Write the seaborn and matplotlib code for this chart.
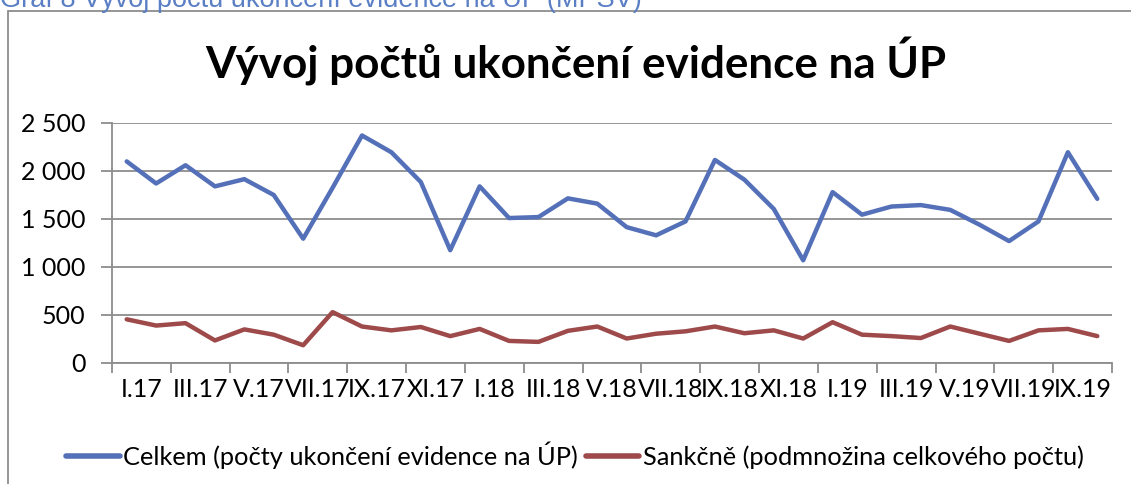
import pandas as pd
import matplotlib.pyplot as plt
import matplotlib.patches as mpatches
from matplotlib.ticker import FuncFormatter, FixedLocator
import seaborn as sns

# Values (monthly, I.2017 - X.2019)
months = ["I", "II", "III", "IV", "V", "VI", "VII", "VIII", "IX", "X", "XI", "XII"]
periods = [f"{m}.{y}" for y in ["17", "18", "19"] for m in months][:34]

celkem = [2100, 1870, 2060, 1840, 1915, 1750, 1295, 1825, 2370, 2195, 1885, 1175,
          1840, 1510, 1520, 1715, 1660, 1415, 1330, 1475, 2115, 1910, 1605, 1070,
          1780, 1545, 1630, 1645, 1595, 1440, 1270, 1475, 2195, 1710]
sankcne = [455, 390, 415, 235, 350, 295, 185, 530, 380, 340, 375, 280,
           355, 230, 220, 335, 380, 255, 305, 330, 380, 310, 340, 255,
           425, 295, 280, 260, 380, 305, 230, 340, 355, 280]

tick_labels = periods[::2]
series_names = ["Celkem (počty ukončení evidence na ÚP)",
                "Sankčně (podmnožina celkového počtu)"]

df = pd.DataFrame({"idx": list(range(len(periods))) * 2,
                   "value": celkem + sankcne,
                   "series": [series_names[0]] * len(celkem) + [series_names[1]] * len(sankcne)})

sns.set_style("white")
plt.rcParams['font.family'] = ['Lato', 'DejaVu Sans']
plt.rcParams['text.color'] = 'black'
plt.rcParams['xtick.labelcolor'] = 'black'
plt.rcParams['ytick.labelcolor'] = 'black'

fig = plt.figure(figsize=(11.31, 4.84), dpi=100)
ax = fig.add_axes([112 / 1131, 1 - 363 / 484, 1000 / 1131, 240 / 484])

sns.lineplot(data=df, x="idx", y="value", hue="series", ax=ax,
             palette=["#5470B8", "#9E4A4A"], linewidth=3.2, legend=False)

ax.set_xlim(-0.5, len(periods) - 0.5)
ax.set_ylim(0, 2500)
ax.set_yticks(range(0, 2501, 500))
ax.yaxis.set_major_formatter(FuncFormatter(lambda v, p: f"{int(v):,}".replace(",", " ")))
ax.grid(axis="y", color="#8C8C8C", linewidth=1.3)

# tick marks at boundaries of every 2 months, labels centred between them
ax.xaxis.set_major_locator(FixedLocator([i - 0.5 for i in range(0, len(periods) + 1, 2)]))
ax.xaxis.set_major_formatter(FuncFormatter(lambda v, p: ""))
ax.xaxis.set_minor_locator(FixedLocator([i + 0.5 for i in range(0, len(periods), 2)]))
ax.set_xticklabels(tick_labels, minor=True)
ax.tick_params(axis="x", which="major", direction="out", length=7, width=1.3, color="#8C8C8C", bottom=True)
ax.tick_params(axis="x", which="minor", length=0, pad=11, labelsize=18, labelcolor="black")
ax.tick_params(axis="y", direction="out", length=8, width=1.3, color="#8C8C8C", left=True,
               labelsize=18, pad=11, labelcolor="black")

for s in ["top", "right"]:
    ax.spines[s].set_visible(False)
for s in ["left", "bottom"]:
    ax.spines[s].set_color("#8C8C8C")
    ax.spines[s].set_linewidth(1.3)
ax.set_xlabel("")
ax.set_ylabel("")

fig.text(576 / 1131, 1 - 62 / 484, "Vývoj počtů ukončení evidence na ÚP",
         ha="center", va="center", fontsize=31.7, fontweight="bold", color="black")

# caption above the chart box (cut off at the top in the source)
fig.text(0.0, 1 - 7 / 484, "Graf 8 Vývoj počtu ukončení evidence na ÚP (MPSV)",
         ha="left", va="baseline", fontsize=19.5, color="#5B7FC4",
         family=["Liberation Sans", "DejaVu Sans"])

# chart frame
fig.patches.append(mpatches.Rectangle((8 / 1131, -0.1), 1.2, 1 - 11 / 484 + 0.1,
                                      transform=fig.transFigure, fill=False,
                                      edgecolor="#8C8C8C", linewidth=1.3))

handles = [plt.Line2D([], [], color="#5470B8", linewidth=4),
           plt.Line2D([], [], color="#9E4A4A", linewidth=4)]
leg = fig.legend(handles, series_names, loc="center", bbox_to_anchor=(575 / 1131, 1 - 455 / 484),
                 ncol=2, frameon=False, fontsize=18.3, handlelength=2.1, handletextpad=0.15,
                 columnspacing=0.3)
for t in leg.get_texts():
    t.set_color("black")

plt.savefig("out.png", dpi=100)
